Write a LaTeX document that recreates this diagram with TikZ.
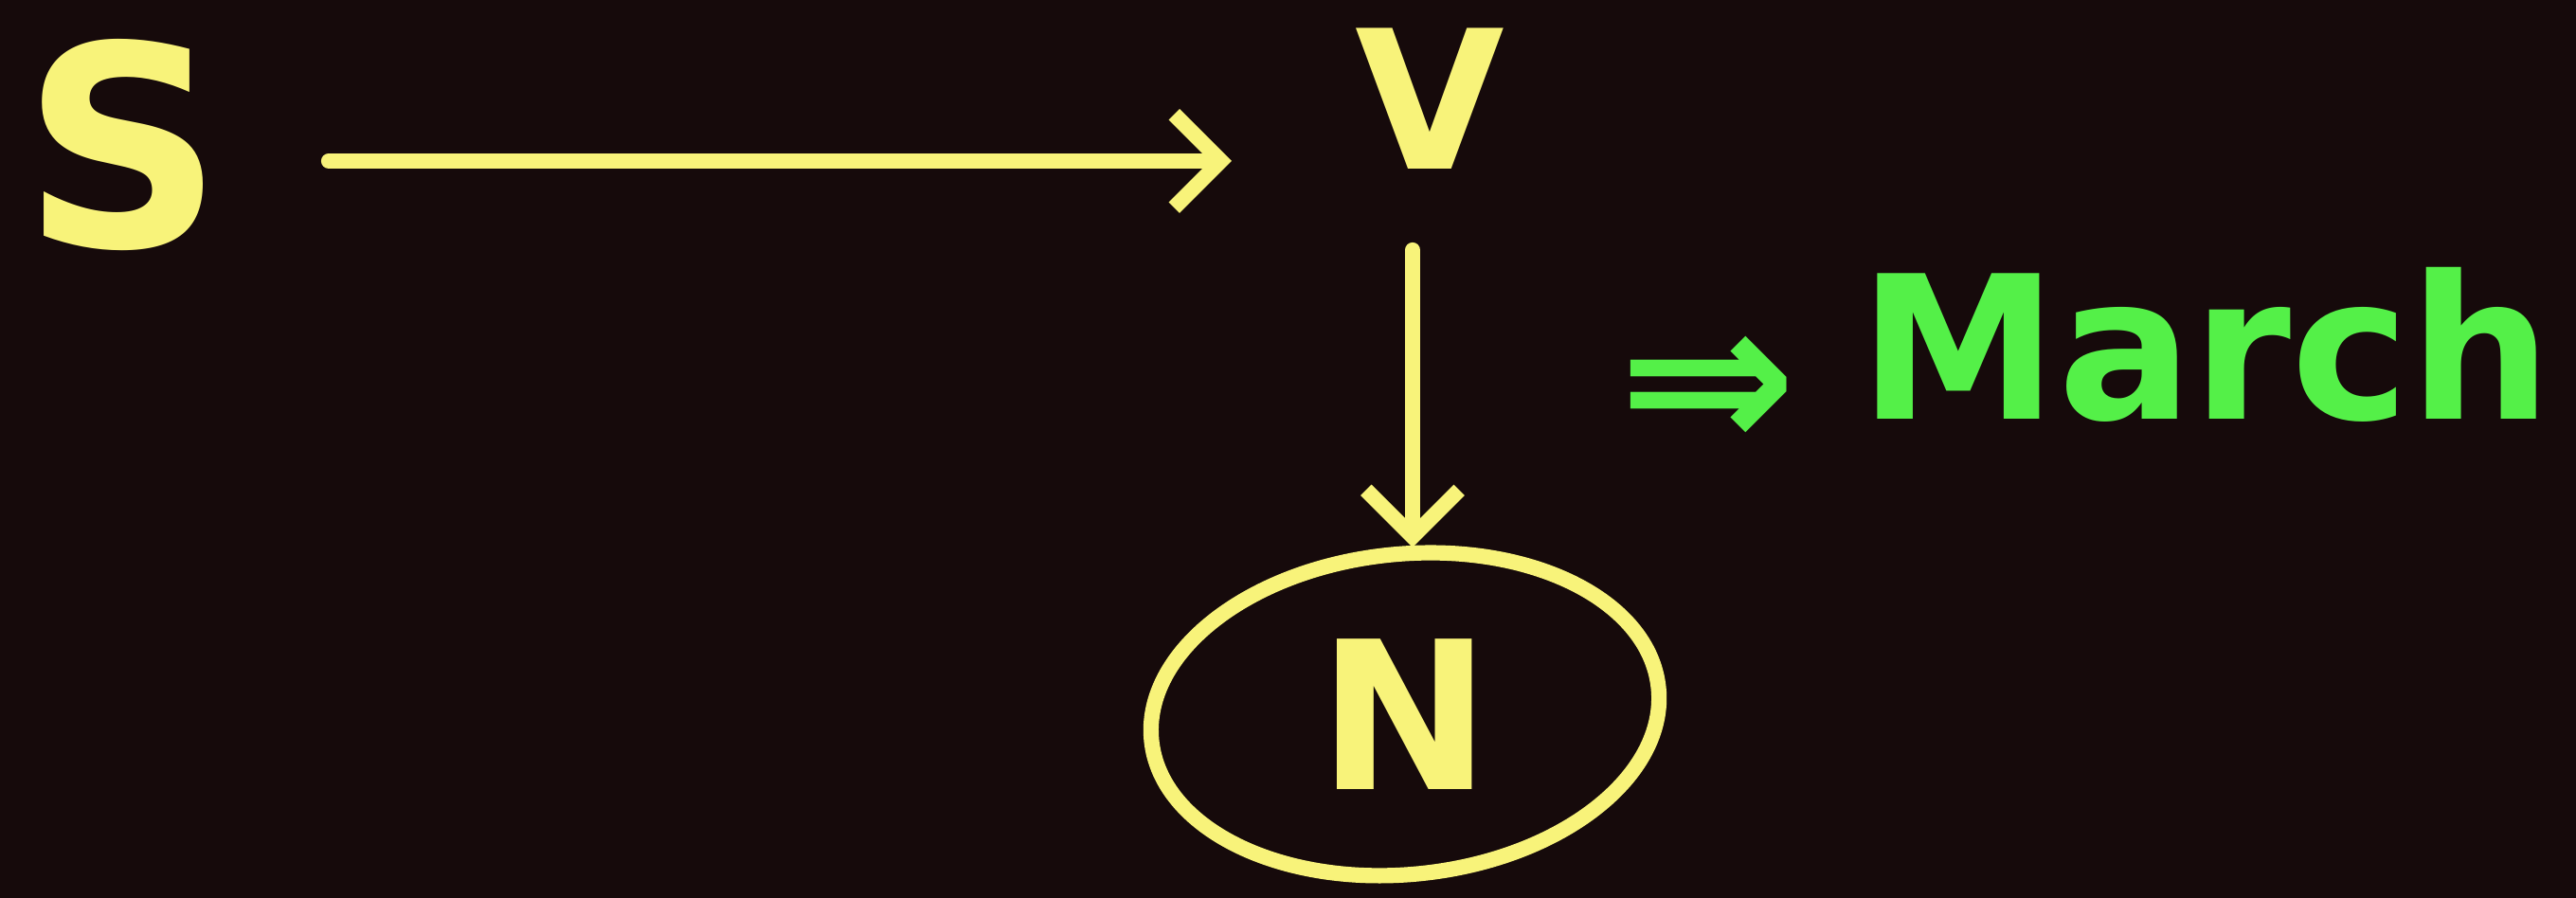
\documentclass[tikz,border=0pt]{standalone}
\usepackage{fontspec}
\setmainfont{DejaVu Sans}
\usetikzlibrary{arrows.meta, positioning, shapes.geometric}
\definecolor{boarddark}{RGB}{22,10,11}
\definecolor{chalkyellow}{RGB}{248,243,122}
\definecolor{chalkgreen}{RGB}{84,240,72}

\begin{document}
\begin{tikzpicture}[
    letter/.style={text=chalkyellow, inner sep=0pt},
    stroke/.style={draw=chalkyellow, line width=4.6pt, line cap=round,
        -{Straight Barb[length=14pt, width=28pt, line width=4.6pt]}},
    note/.style={text=chalkgreen, inner sep=0pt}
]

% board
\path[fill=boarddark, use as bounding box] (0,0) rectangle (27.19,9.48);

\node[letter, font=\bfseries\fontsize{84}{90}\selectfont] (s) at (1.30,7.95) {S};
\node[letter, font=\bfseries\fontsize{58}{62}\selectfont] (v) at (15.09,8.44) {V};
\node[letter, font=\bfseries\fontsize{62}{66}\selectfont] (n) at (14.83,1.94) {N};
\node[draw=chalkyellow, line width=4.6pt, ellipse, rotate=6,
    minimum width=5.38cm, minimum height=3.38cm] (ring) at (14.83,1.94) {};

\coordinate (a1) at (3.47,7.78);
\coordinate (a2) at (13.0,7.78);
\draw[stroke] (a1) -- (a2);
\draw[stroke] (v.south) ++(-0.18,-0.85) coordinate (d1) -- (ring.north -| d1);

\node[note, font=\bfseries\fontsize{64}{68}\selectfont] (imp) at (18.03,5.32) {⇒};
\node[note, font=\bfseries\fontsize{60}{70}\selectfont] (march) at (23.28,5.84) {March};

\end{tikzpicture}
\end{document}
